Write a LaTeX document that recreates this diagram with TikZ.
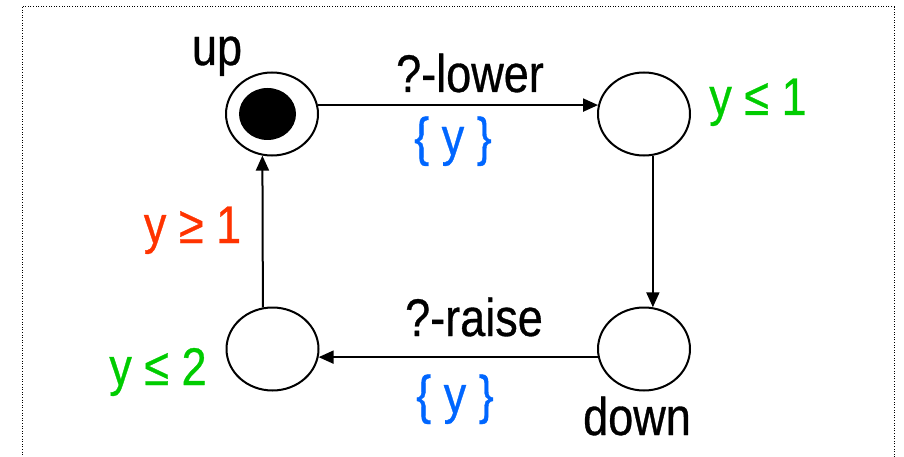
\documentclass[tikz,border=0pt]{standalone}
\usepackage{fontspec}
\setmainfont{Liberation Sans}[FakeStretch=0.85,FakeBold=0.6]
\usetikzlibrary{shapes.geometric,arrows.meta}
\definecolor{guardgreen}{RGB}{0,204,0}
\definecolor{resetblue}{RGB}{0,102,255}
\definecolor{guardred}{RGB}{255,51,0}
\tikzset{
  state/.style={ellipse, draw, line width=2pt, minimum width=92pt, minimum height=83pt, inner sep=0pt},
  trans/.style={line width=2pt, -{Triangle[length=15pt,width=13pt]}},
  lbl/.style={anchor=base, inner sep=0pt, font=\fontsize{53}{58}\selectfont},
}
\begin{document}
\begin{tikzpicture}[x=1pt,y=-1pt]
\useasboundingbox (0,0) rectangle (904,457);
\draw[line width=1pt, dash pattern=on 1pt off 1.6pt] (22,7) rectangle (894,480);
% states
\node[state] (up) at (272,114) {};
\node[ellipse, fill, minimum width=57pt, minimum height=52pt, inner sep=0pt] (upin) at (267.5,114) {};
\node[state] (tr) at (644,114) {};
\node[state] (bl) at (272.5,349) {};
\node[state] (dn) at (644,349) {};
% transitions
\draw[trans] (up.11) -- (tr.169);
\draw[trans] (tr.-78) -- (dn.78);
\draw[trans] (dn.190) -- (bl.-10);
\draw[trans] (bl.103) -- (up.-103);
% labels
\node[lbl] (tup) at (217,65) {up};
\node[lbl] (tdown) at (637,435) {down};
\node[lbl] (tlower) at (470,92) {?-lower};
\node[lbl] (traise) at (474,336) {?-raise};
\node[lbl, text=resetblue] (r1) at (453,155) {\{ y \}};
\node[lbl, text=resetblue] (r2) at (455,413) {\{ y \}};
\node[lbl, text=guardgreen] (g1) at (758,115) {y ≤ 1};
\node[lbl, text=guardred] (g2) at (192.5,243) {y ≥ 1};
\node[lbl, text=guardgreen] (g3) at (158,385) {y ≤ 2};
\end{tikzpicture}
\end{document}
